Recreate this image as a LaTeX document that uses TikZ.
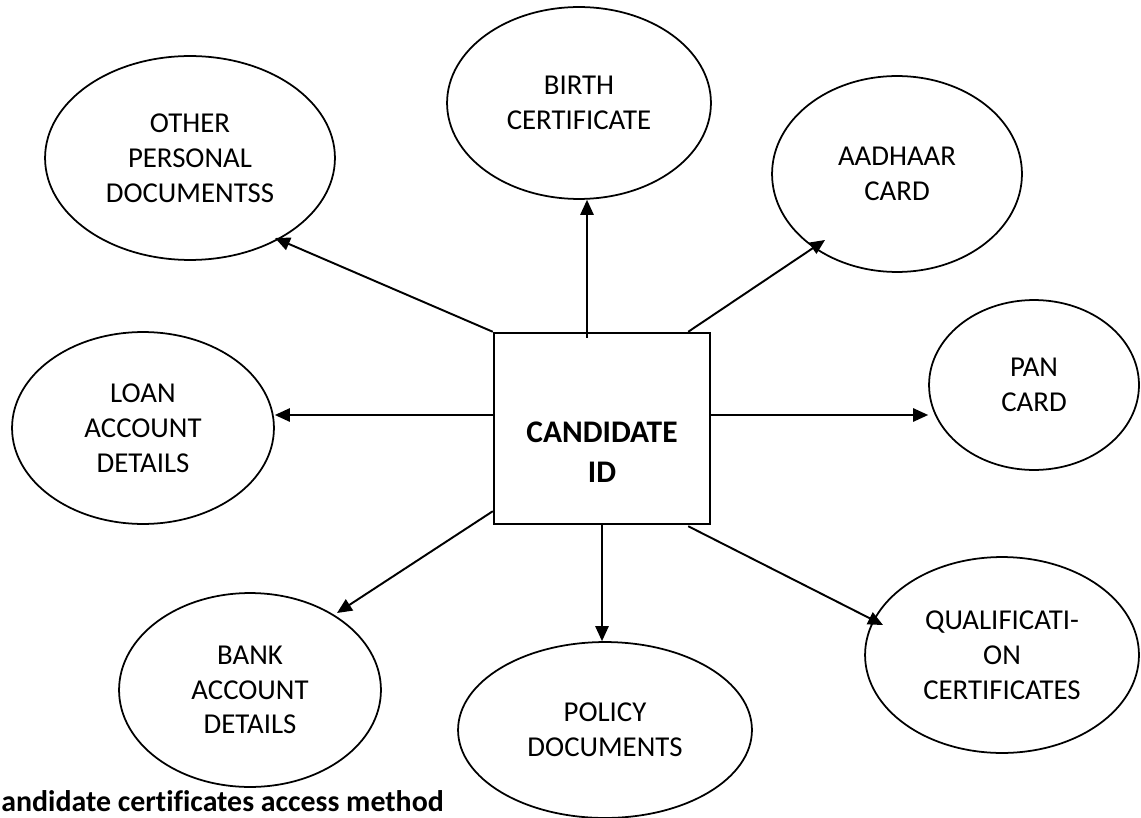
\documentclass[tikz,border=0pt]{standalone}
\usepackage{fontspec}
\setmainfont{Carlito}[Ligatures=CommonOff]
\usetikzlibrary{shapes.geometric,arrows.meta,calc}
\begin{document}
\begin{tikzpicture}[x=0.02cm,y=-0.02cm,
  oval/.style 2 args={ellipse,draw,line width=1pt,inner sep=0pt,
    minimum width={#1*0.04cm},minimum height={#2*0.04cm},
    align=center,font=\fontsize{16.4}{19.8}\selectfont},
  hubbox/.style={rectangle,draw,line width=1.4pt,inner sep=0pt,
    minimum width={216*0.02cm},minimum height={191*0.02cm}},
  arr/.style={line width=1.1pt,-{Triangle[length=8.5pt,width=7.5pt]}}]
\useasboundingbox (0,0) rectangle (1141,817);

% central box and its label
\node[hubbox] (box) at (602,428.5) {};
\node[align=center,font=\fontsize{17.9}{22.7}\selectfont\bfseries] (idtext) at (602,452) {CANDIDATE\\ID};

% document ellipses
\node[oval={145}{102}] (other)   at (190,158)  {OTHER\\PERSONAL\\DOCUMENTSS};
\node[oval={132}{96}]  (birth)   at (579,103)  {BIRTH\\CERTIFICATE};
\node[oval={125}{98}]  (aadhaar) at (897,174)  {AADHAAR\\CARD};
\node[oval={105}{85}]  (pan)     at (1034,385) {PAN\\CARD};
\node[oval={131}{96}]  (loan)    at (143,428)  {LOAN\\ACCOUNT\\DETAILS};
\node[oval={131}{97}]  (bank)    at (250,690)  {BANK\\ACCOUNT\\DETAILS};
\node[oval={147}{88}]  (policy)  at (605,730)  {POLICY\\DOCUMENTS};
\node[oval={137}{98}]  (qual)    at (1002,655) {QUALIFICATI-\\ON\\CERTIFICATES};

% start points of the connectors on the box
\coordinate (sbirth) at ($(box.north)+(-15,6)$);
\coordinate (saadhaar) at ($(box.north east)+(-23,0)$);
\coordinate (span) at ($(box.east)+(0,-13.5)$);
\coordinate (sloan) at ($(box.west)+(0,-13.5)$);
\coordinate (sbank) at ($(box.south west)+(0,-14)$);
\coordinate (squal) at ($(box.south east)+(-23,1)$);

% connectors
\draw[arr] (box.north west) -- ($(other)+(85,80)$);
\draw[arr] (sbirth) -- (sbirth |- birth.south);
\draw[arr] (saadhaar) -- ($(aadhaar)+(-72,66)$);
\draw[arr] (span) -- (span -| pan.west);
\draw[arr] (sloan) -- (sloan -| loan.east);
\draw[arr] (sbank) -- ($(bank)+(87,-77)$);
\draw[arr] (box.south) -- (box.south |- policy.north);
\draw[arr] (squal) -- ($(qual)+(-119,-30)$);

% caption
\node[anchor=base west,inner sep=0pt,font=\fontsize{17}{20}\selectfont\bfseries] (caption) at (1,811) {andidate certificates access method};
\end{tikzpicture}
\end{document}
